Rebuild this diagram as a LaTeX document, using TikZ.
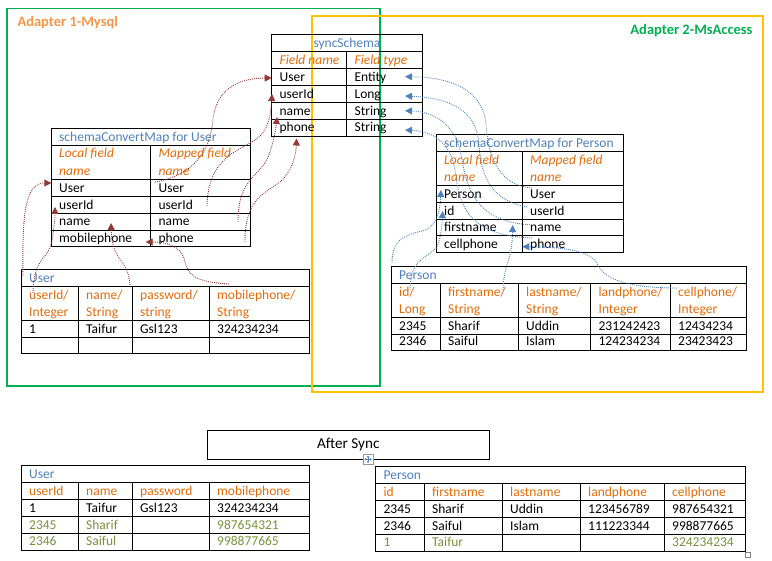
\documentclass[tikz,border=0pt]{standalone}
\usepackage{fontspec}
\setmainfont{Carlito}
\usetikzlibrary{arrows.meta}
\definecolor{tblue}{HTML}{4F81BD}
\definecolor{torange}{HTML}{E36C09}
\definecolor{lorange}{HTML}{F79646}
\definecolor{tgreen}{HTML}{00B050}
\definecolor{tyellow}{HTML}{FFC000}
\definecolor{tolive}{HTML}{76923C}
\definecolor{brn}{HTML}{953735}
\begin{document}
\begin{tikzpicture}[x=1pt,y=-1pt,
  tl/.style={anchor=base west, inner sep=0pt, font=\fontsize{13.5}{16}\selectfont},
  ttl/.style={tl, text=tblue},
  hd/.style={tl, text=torange},
  hdi/.style={tl, text=torange, font=\fontsize{13.5}{16}\selectfont\itshape},
  ol/.style={tl, text=tolive},
  grid/.style={draw=black, line width=0.9pt},
  bcon/.style={draw=brn, line width=0.9pt, dash pattern=on 0.9pt off 1.1pt, -{Triangle[length=7pt,width=7pt]}},
  lcon/.style={draw=tblue, line width=0.9pt, dash pattern=on 0.9pt off 1.1pt, -{Triangle[length=7pt,width=7pt]}},
  adlabel/.style={inner sep=0pt, font=\fontsize{14.5}{17}\selectfont\bfseries}]
\useasboundingbox (0,0) rectangle (772,561);

% adapter frames
\draw[tgreen, line width=1.2pt] (7,8.3) rectangle (380,386);
\draw[tyellow, line width=1.2pt] (312,16) rectangle (763,392);
\node[adlabel, anchor=base west, text=lorange] (ad1) at (17.3,26.6) {Adapter 1-Mysql};
\node[adlabel, anchor=base east, text=tgreen] (ad2) at (752.7,35) {Adapter 2-MsAccess};

% ---------- syncSchema ----------
\draw[grid] (271.7,34.3) rectangle (422.3,136);
\foreach \y in {51.3,68.3,85.3,102.3,119.3} \draw[grid] (271.7,\y) -- (422.3,\y);
\draw[grid] (346.7,51.3) -- (346.7,136);
\node[ttl, anchor=base] (s-t) at (347,47.3) {syncSchema};
\node[hdi] (s-h1) at (279.4,64.3) {Field name};
\node[hdi] (s-h2) at (354.4,64.3) {Field type};
\node[tl] (s-1a) at (279.4,81.3) {User};
\node[tl] (s-1b) at (354.4,81.3) {Entity};
\node[tl] (s-2a) at (279.4,98.3) {userId};
\node[tl] (s-2b) at (354.4,98.3) {Long};
\node[tl] (s-3a) at (279.4,115.3) {name};
\node[tl] (s-3b) at (354.4,115.3) {String};
\node[tl] (s-4a) at (279.4,132) {phone};
\node[tl] (s-4b) at (354.4,132) {String};

% ---------- schemaConvertMap for User ----------
\draw[grid] (51.3,128.3) rectangle (250.3,246.3);
\foreach \y in {145.3,179.3,196.3,213.3,230} \draw[grid] (51.3,\y) -- (250.3,\y);
\draw[grid] (150.7,145.3) -- (150.7,246.3);
\node[ttl] (mu-t) at (59,141.3) {schemaConvertMap for User};
\node[hdi] (mu-h1) at (59,158) {Local field};
\node[hdi] (mu-h1b) at (59,175.3) {name};
\node[hdi] (mu-h2) at (158.4,158) {Mapped field};
\node[hdi] (mu-h2b) at (158.4,175.3) {name};
\node[tl] (mu-1a) at (59,192.3) {User};
\node[tl] (mu-1b) at (158.4,192.3) {User};
\node[tl] (mu-2a) at (59,209.3) {userId};
\node[tl] (mu-2b) at (158.4,209.3) {userId};
\node[tl] (mu-3a) at (59,226) {name};
\node[tl] (mu-3b) at (158.4,226) {name};
\node[tl] (mu-4a) at (59,242.3) {mobilephone};
\node[tl] (mu-4b) at (158.4,242.3) {phone};

% ---------- schemaConvertMap for Person ----------
\draw[grid] (436.3,134.7) rectangle (623.3,252.3);
\foreach \y in {151.7,185.3,202.3,219.3,235.7} \draw[grid] (436.3,\y) -- (623.3,\y);
\draw[grid] (522.3,151.7) -- (522.3,252.3);
\node[ttl] (mp-t) at (444,147.7) {schemaConvertMap for Person};
\node[hdi] (mp-h1) at (444,164.5) {Local field};
\node[hdi] (mp-h1b) at (444,181.3) {name};
\node[hdi] (mp-h2) at (530,164.5) {Mapped field};
\node[hdi] (mp-h2b) at (530,181.3) {name};
\node[tl] (mp-1a) at (444,198.3) {Person};
\node[tl] (mp-1b) at (530,198.3) {User};
\node[tl] (mp-2a) at (444,215.3) {id};
\node[tl] (mp-2b) at (530,215.3) {userId};
\node[tl] (mp-3a) at (444,231.7) {firstname};
\node[tl] (mp-3b) at (530,231.7) {name};
\node[tl] (mp-4a) at (444,248.3) {cellphone};
\node[tl] (mp-4b) at (530,248.3) {phone};

% ---------- User (top) ----------
\draw[grid] (21.3,269.3) rectangle (309.7,353.3);
\foreach \y in {286.3,320.3,337.3} \draw[grid] (21.3,\y) -- (309.7,\y);
\foreach \x in {78.3,132.3,209.3} \draw[grid] (\x,286.3) -- (\x,353.3);
\node[ttl] (ut-t) at (29,282.3) {User};
\node[hd] (ut-h1) at (29,299.5) {userId/};
\node[hd] (ut-h1b) at (29,316.3) {Integer};
\node[hd] (ut-h2) at (86,299.5) {name/};
\node[hd] (ut-h2b) at (86,316.3) {String};
\node[hd] (ut-h3) at (140,299.5) {password/};
\node[hd] (ut-h3b) at (140,316.3) {string};
\node[hd] (ut-h4) at (217,299.5) {mobilephone/};
\node[hd] (ut-h4b) at (217,316.3) {String};
\node[tl] (ut-1a) at (29,333.3) {1};
\node[tl] (ut-1b) at (86,333.3) {Taifur};
\node[tl] (ut-1c) at (140,333.3) {Gsl123};
\node[tl] (ut-1d) at (217,333.3) {324234234};

% ---------- Person (top) ----------
\draw[grid] (391.3,266.3) rectangle (746.7,350);
\foreach \y in {283.3,317.3,334.3} \draw[grid] (391.3,\y) -- (746.7,\y);
\foreach \x in {440.3,518.3,590.7,670.3} \draw[grid] (\x,283.3) -- (\x,350);
\node[ttl] (pt-t) at (399,279.3) {Person};
\node[hd] (pt-h1) at (399,296.5) {id/};
\node[hd] (pt-h1b) at (399,313.3) {Long};
\node[hd] (pt-h2) at (448,296.5) {firstname/};
\node[hd] (pt-h2b) at (448,313.3) {String};
\node[hd] (pt-h3) at (526,296.5) {lastname/};
\node[hd] (pt-h3b) at (526,313.3) {String};
\node[hd] (pt-h4) at (598.4,296.5) {landphone/};
\node[hd] (pt-h4b) at (598.4,313.3) {Integer};
\node[hd] (pt-h5) at (678,296.5) {cellphone/};
\node[hd] (pt-h5b) at (678,313.3) {Integer};
\node[tl] (pt-1a) at (399,330.3) {2345};
\node[tl] (pt-1b) at (448,330.3) {Sharif};
\node[tl] (pt-1c) at (526,330.3) {Uddin};
\node[tl] (pt-1d) at (598.4,330.3) {231242423};
\node[tl] (pt-1e) at (678,330.3) {12434234};
\node[tl] (pt-2a) at (399,346) {2346};
\node[tl] (pt-2b) at (448,346) {Saiful};
\node[tl] (pt-2c) at (526,346) {Islam};
\node[tl] (pt-2d) at (598.4,346) {124234234};
\node[tl] (pt-2e) at (678,346) {23423423};

% ---------- After Sync ----------
\draw[grid] (207.3,430.3) rectangle (489.3,459.3);
\node[inner sep=0pt, anchor=base, font=\fontsize{15.2}{18}\selectfont] (after) at (348.3,449) {After Sync};
% table move handle
\draw[draw=black!40, fill=white, line width=0.6pt] (363,454.3) rectangle (373,464.3);
\coordinate (mh) at (368,459.3);
\foreach \dx/\dy in {3.6/0,-3.6/0,0/3.6,0/-3.6}
  \draw[tblue, line width=0.6pt, -{Triangle[length=1.6pt,width=2.4pt]}] (mh) -- ++(\dx,\dy);
% resize handle
\draw[draw=black!50, fill=white, line width=0.5pt] (745.5,552.5) rectangle (750,557);

% ---------- User (bottom) ----------
\draw[grid] (21.3,465.3) rectangle (309.7,550);
\foreach \y in {482.3,499.3,516.7,533.3} \draw[grid] (21.3,\y) -- (309.7,\y);
\foreach \x in {78.3,132.3,209.3} \draw[grid] (\x,482.3) -- (\x,550);
\node[ttl] (ub-t) at (29,478.3) {User};
\node[hd] (ub-h1) at (29,495.3) {userId};
\node[hd] (ub-h2) at (86,495.3) {name};
\node[hd] (ub-h3) at (140,495.3) {password};
\node[hd] (ub-h4) at (217,495.3) {mobilephone};
\node[tl] (ub-1a) at (29,512.7) {1};
\node[tl] (ub-1b) at (86,512.7) {Taifur};
\node[tl] (ub-1c) at (140,512.7) {Gsl123};
\node[tl] (ub-1d) at (217,512.7) {324234234};
\node[ol] (ub-2a) at (29,529.3) {2345};
\node[ol] (ub-2b) at (86,529.3) {Sharif};
\node[ol] (ub-2d) at (217,529.3) {987654321};
\node[ol] (ub-3a) at (29,546) {2346};
\node[ol] (ub-3b) at (86,546) {Saiful};
\node[ol] (ub-3d) at (217,546) {998877665};

% ---------- Person (bottom) ----------
\draw[grid] (375.7,466.3) rectangle (745.7,551);
\foreach \y in {483.3,500.3,517.3,534.3} \draw[grid] (375.7,\y) -- (745.7,\y);
\foreach \x in {424.3,502.3,580.3,664.3} \draw[grid] (\x,483.3) -- (\x,551);
\node[ttl] (pb-t) at (383.4,479.3) {Person};
\node[hd] (pb-h1) at (383.4,496.3) {id};
\node[hd] (pb-h2) at (432,496.3) {firstname};
\node[hd] (pb-h3) at (510,496.3) {lastname};
\node[hd] (pb-h4) at (588,496.3) {landphone};
\node[hd] (pb-h5) at (672,496.3) {cellphone};
\node[tl] (pb-1a) at (383.4,513.3) {2345};
\node[tl] (pb-1b) at (432,513.3) {Sharif};
\node[tl] (pb-1c) at (510,513.3) {Uddin};
\node[tl] (pb-1d) at (588,513.3) {123456789};
\node[tl] (pb-1e) at (672,513.3) {987654321};
\node[tl] (pb-2a) at (383.4,530.3) {2346};
\node[tl] (pb-2b) at (432,530.3) {Saiful};
\node[tl] (pb-2c) at (510,530.3) {Islam};
\node[tl] (pb-2d) at (588,530.3) {111223344};
\node[tl] (pb-2e) at (672,530.3) {998877665};
\node[ol] (pb-3a) at (383.4,547) {1};
\node[ol] (pb-3b) at (432,547) {Taifur};
\node[ol] (pb-3e) at (672,547) {324234234};

% ---------- connector end points ----------
\coordinate (b1s) at (23,276);    \coordinate (b1e) at (51.3,183);
\coordinate (b2s) at (33,293);    \coordinate (b2e) at (55,207);
\coordinate (b3s) at (130,285);   \coordinate (b3e) at (111,223);
\coordinate (b4s) at (229,284);   \coordinate (b4e) at (145.7,242);
\coordinate (b5s) at (155,182);   \coordinate (b5e) at (271.7,78);
\coordinate (b6s) at (207,206);   \coordinate (b6e) at (272,94);
\coordinate (b7s) at (238,222);   \coordinate (b7e) at (277,117);
\coordinate (b8s) at (245,242);   \coordinate (b8e) at (296.5,138.5);

\coordinate (a1s) at (532,188);   \coordinate (a1e) at (405,76.7);
\coordinate (a2s) at (527,207);   \coordinate (a2e) at (405,96);
\coordinate (a3s) at (532,225);   \coordinate (a3e) at (405,110.7);
\coordinate (a4s) at (532,238);   \coordinate (a4e) at (405,130);
\coordinate (a5s) at (392,263);   \coordinate (a5e) at (441,190);
\coordinate (a6s) at (410,290);   \coordinate (a6e) at (442.7,211);
\coordinate (a7s) at (503,290);   \coordinate (a7e) at (512.7,225);
\coordinate (a8s) at (677,288);   \coordinate (a8e) at (522.3,246.7);

% ---------- brown connectors (Adapter 1) ----------
\draw[bcon] (b1s) .. controls (22,215) and (25,183) .. (b1e);
\draw[bcon] (b2s) .. controls (34,255) and (48,262) .. (52,240) .. controls (54,228) and (55,220) .. (b2e);
\draw[bcon] (b3s) .. controls (128,258) and (112,262) .. (b3e);
\draw[bcon] (b4s) .. controls (195,282) and (188,275) .. (185,262) .. controls (182,245) and (165,242) .. (b4e);
\draw[bcon] (b5s) .. controls (195,175) and (210,150) .. (213,120) .. controls (216,85) and (245,78) .. (b5e);
\draw[bcon] (b6s) .. controls (208,160) and (235,152) .. (255,140) .. controls (268,132) and (271,115) .. (b6e);
\draw[bcon] (b7s) .. controls (238,175) and (262,178) .. (270,152) .. controls (274,140) and (276,128) .. (b7e);
\draw[bcon] (b8s) .. controls (245,200) and (262,195) .. (280,182) .. controls (292,172) and (296,155) .. (b8e);

% ---------- blue connectors (Adapter 2) ----------
\draw[lcon] (a1s) .. controls (495,185) and (488,150) .. (486,125) .. controls (484,90) and (450,77) .. (a1e);
\draw[lcon] (a2s) .. controls (490,200) and (481,175) .. (479,145) .. controls (477,110) and (450,98) .. (a2e);
\draw[lcon] (a3s) .. controls (480,222) and (468,195) .. (462,160) .. controls (458,130) and (440,112) .. (a3e);
\draw[lcon] (a4s) .. controls (470,235) and (460,210) .. (455,170) .. controls (450,140) and (430,131) .. (a4e);
\draw[lcon] (a5s) .. controls (392,235) and (410,235) .. (425,230) .. controls (437,226) and (440,210) .. (a5e);
\draw[lcon] (a6s) .. controls (410,258) and (428,258) .. (436,248) .. controls (441,240) and (442,225) .. (a6e);
\draw[lcon] (a7s) .. controls (504,262) and (512,262) .. (a7e);
\draw[lcon] (a8s) .. controls (630,288) and (605,280) .. (598,265) .. controls (592,250) and (560,247) .. (a8e);
\end{tikzpicture}
\end{document}
